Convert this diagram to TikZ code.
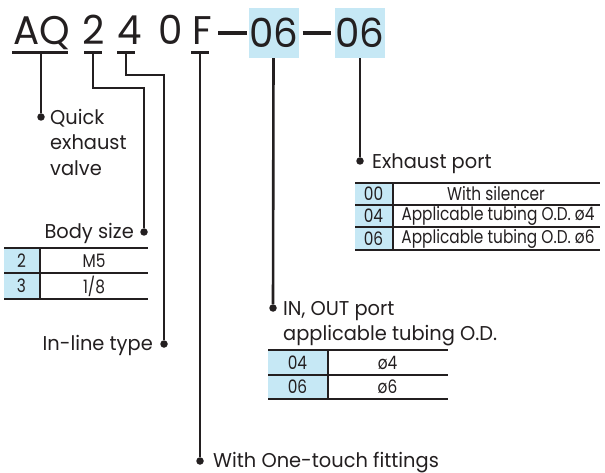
\documentclass[tikz,border=0pt]{standalone}
\usepackage{fontspec}
\setmainfont{Poppins}[FakeStretch=0.97]
\newfontfamily\cellfont{Poppins}[FakeStretch=0.83]
\usetikzlibrary{positioning}

\definecolor{codeblue}{RGB}{198,232,245}
\definecolor{ink}{RGB}{35,31,32}

\tikzset{
  lead/.style={draw=ink,line width=2.6pt},
  thinlead/.style={draw=ink,line width=1.6pt},
  uline/.style={draw=ink,line width=3pt},
  codedash/.style={draw=ink,line width=4.5pt},
  rule/.style={draw=ink,line width=2pt},
  dot/.style={shape=circle,fill=ink,inner sep=0pt,minimum size=7.5pt},
  lbl/.style={text=ink,font=\fontsize{20}{25.5}\selectfont,inner sep=0pt},
  cell/.style={text=ink,font=\cellfont\fontsize{18.5}{19}\selectfont,inner sep=0pt},
  code/.style={text=ink,font=\fontsize{40}{40}\selectfont,inner sep=0pt,anchor=base},
  codebox/.style={code,anchor=center,fill=codeblue,minimum width=50pt,minimum height=50pt}
}

\begin{document}
\begin{tikzpicture}[x=1pt,y=-1pt]
	\useasboundingbox (0,0) rectangle (605,473);

	% model code
	\node [code] (cAQ) at (42,45) {AQ};
	\node [code] (c2) at (94,45) {2};
	\node [code] (c4) at (130,45) {4};
	\node [code] (c0) at (171,45) {0};
	\node [code] (cF) at (202,45) {F};
	\node [codebox] (b1) at (273.5,33) {06};
	\node [codebox] (b2) at (360,33) {06};
	\draw [codedash] ([xshift=-30]b1.west) -- ([xshift=-1]b1.west);
	\draw [codedash,shorten <=4pt,shorten >=4pt] (b1.east) -- (b2.west);

	% underlines
	\coordinate (uAQ) at (41,53);
	\coordinate (u2) at (93,53);
	\coordinate (u4) at (126,53);
	\coordinate (uF) at (200,53);
	\draw [uline] ([xshift=-29]uAQ) -- ([xshift=27]uAQ);
	\draw [uline] ([xshift=-9]u2) -- ([xshift=9]u2);
	\draw [uline] ([xshift=-9]u4) -- ([xshift=9]u4);
	\draw [uline] ([xshift=-9]uF) -- ([xshift=9]uF);

	% dots
	\node [dot] (dAQ) at (41,117) {};
	\node [dot] (dBody) at (144,232) {};
	\node [dot] (dLine) at (164,344) {};
	\node [dot] (dF) at (200,461) {};
	\node [dot] (dIO) at (273,308) {};
	\node [dot] (dEx) at (360,161) {};

	% leads
	\coordinate (k2) at (93,88);
	\coordinate (k4) at (126,75);
	\draw [lead] (uAQ) -- (dAQ);
	\draw [thinlead] (u2) -- (k2) -| (dBody);
	\draw [thinlead] (u4) -- (k4) -| (dLine);
	\draw [lead] (uF) -- (dF);
	\draw [lead] (b1.south) -- (dIO);
	\draw [lead] (b2.south) -- (dEx);

	% labels
	\node [lbl,anchor=north west,align=left] (lAQ) at (50,109) {Quick\\exhaust\\valve};
	\node [lbl,anchor=base east] (lBody) at (134,238) {Body size};
	\node [lbl,anchor=base east] (lLine) at (153,350) {In-line type};
	\node [lbl,anchor=base west] (lF) at (213,467) {With One-touch fittings};
	\node [lbl,anchor=base west] (lIO) at (283,315) {IN, OUT port};
	\node [lbl,anchor=base west] (lIOb) at (283,340) {applicable tubing O.D.};
	\node [lbl,anchor=base west] (lEx) at (372,169) {Exhaust port};

	% body size table
	\fill [codeblue] (4,248) rectangle (39,299);
	\draw [rule] (4,248) -- (148,248);
	\draw [rule] (4,273) -- (148,273);
	\draw [rule] (4,299) -- (148,299);
	\draw [rule] (39.5,248) -- (39.5,299);
	\node [cell] (t2) at (21.5,261) {2};
	\node [cell] (tM5) at (94,261) {M5};
	\node [cell] (t3) at (21.5,286) {3};
	\node [cell] (t18) at (94,286) {1/8};

	% exhaust port table
	\fill [codeblue] (355,183) rectangle (392,250);
	\draw [rule] (355,183) -- (600,183);
	\draw [rule] (355,205) -- (600,205);
	\draw [rule] (355,227) -- (600,227);
	\draw [rule] (355,250) -- (600,250);
	\draw [rule] (392.5,183) -- (392.5,250);
	\node [cell] (e00) at (373.5,194) {00};
	\node [cell] (eSil) at (496,194) {With silencer};
	\node [cell] (e04) at (373.5,216) {04};
	\node [cell] (eT4) at (498,216) {Applicable tubing O.D. ø4};
	\node [cell] (e06) at (373.5,238.5) {06};
	\node [cell] (eT6) at (498,238.5) {Applicable tubing O.D. ø6};

	% in/out port table
	\fill [codeblue] (268,350) rectangle (327,399);
	\draw [rule] (268,350) -- (448,350);
	\draw [rule] (268,375) -- (448,375);
	\draw [rule] (268,399) -- (448,399);
	\draw [rule] (327.5,350) -- (327.5,399);
	\node [cell] (i04) at (297.5,362.5) {04};
	\node [cell] (iD4) at (387.5,362.5) {ø4};
	\node [cell] (i06) at (297.5,387) {06};
	\node [cell] (iD6) at (387.5,387) {ø6};
\end{tikzpicture}
\end{document}
